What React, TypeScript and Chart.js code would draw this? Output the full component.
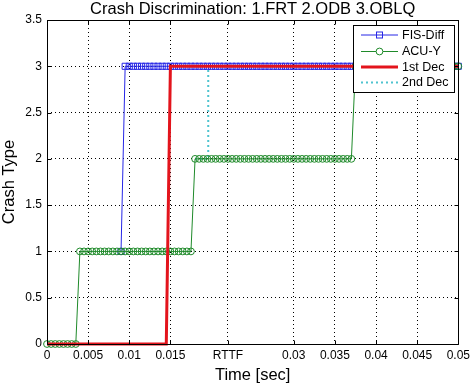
import React, { useEffect, useRef } from 'react';
import { Chart, registerables } from 'chart.js';

Chart.register(...registerables);

const timeSec = [
  0, 0.0005, 0.001, 0.0015, 0.002, 0.0025, 0.003, 0.0035, 0.004, 0.0045,
  0.005, 0.0055, 0.006, 0.0065, 0.007, 0.0075, 0.008, 0.0085, 0.009, 0.0095,
  0.01, 0.0105, 0.011, 0.0115, 0.012, 0.0125, 0.013, 0.0135, 0.014, 0.0145,
  0.015, 0.0155, 0.016, 0.0165, 0.017, 0.0175, 0.018, 0.0185, 0.019, 0.0195,
  0.02, 0.0205, 0.021, 0.0215, 0.022, 0.0225, 0.023, 0.0235, 0.024, 0.0245,
  0.025, 0.0255, 0.026, 0.0265, 0.027, 0.0275, 0.028, 0.0285, 0.029, 0.0295,
  0.03, 0.0305, 0.031, 0.0315, 0.032, 0.0325, 0.033, 0.0335, 0.034, 0.0345,
  0.035, 0.0355, 0.036, 0.0365, 0.037, 0.0375, 0.038, 0.0385, 0.039, 0.0395,
  0.04, 0.0405, 0.041, 0.0415, 0.042, 0.0425, 0.043, 0.0435, 0.044, 0.0445,
  0.045, 0.0455, 0.046, 0.0465, 0.047, 0.0475, 0.048, 0.0485, 0.049, 0.0495,
  0.05,
];

const fisDiff = [
  null, null, null, null, null, null, null, null, null, null,
  null, null, null, null, null, null, null, null, 1, 3,
  3, 3, 3, 3, 3, 3, 3, 3, 3, 3,
  3, 3, 3, 3, 3, 3, 3, 3, 3, 3,
  3, 3, 3, 3, 3, 3, 3, 3, 3, 3,
  3, 3, 3, 3, 3, 3, 3, 3, 3, 3,
  3, 3, 3, 3, 3, 3, 3, 3, 3, 3,
  3, 3, 3, 3, 3, 3, 3, 3, 3, 3,
  3, 3, 3, 3, 3, 3, 3, 3, 3, 3,
  3, 3, 3, 3, 3, 3, 3, 3, 3, 3,
  3,
];

const acuY = [
  0, 0, 0, 0, 0, 0, 0, 0, 1, 1,
  1, 1, 1, 1, 1, 1, 1, 1, 1, 1,
  1, 1, 1, 1, 1, 1, 1, 1, 1, 1,
  1, 1, 1, 1, 1, 1, 2, 2, 2, 2,
  2, 2, 2, 2, 2, 2, 2, 2, 2, 2,
  2, 2, 2, 2, 2, 2, 2, 2, 2, 2,
  2, 2, 2, 2, 2, 2, 2, 2, 2, 2,
  2, 2, 2, 2, 2, 3, 3, 3, 3, 3,
  3, 3, 3, 3, 3, 3, 3, 3, 3, 3,
  3, 3, 3, 3, 3, 3, 3, 3, 3, 3,
  3,
];

const dec1 = [
  0, 0, 0, 0, 0, 0, 0, 0, 0, 0,
  0, 0, 0, 0, 0, 0, 0, 0, 0, 0,
  0, 0, 0, 0, 0, 0, 0, 0, 0, 0,
  3, 3, 3, 3, 3, 3, 3, 3, 3, 3,
  3, 3, 3, 3, 3, 3, 3, 3, 3, 3,
  3, 3, 3, 3, 3, 3, 3, 3, 3, 3,
  3, 3, 3, 3, 3, 3, 3, 3, 3, 3,
  3, 3, 3, 3, 3, 3, 3, 3, 3, 3,
  3, 3, 3, 3, 3, 3, 3, 3, 3, 3,
  3, 3, 3, 3, 3, 3, 3, 3, 3, 3,
  3,
];

const dec2Time = [0.018, 0.0196, 0.0196, 0.05];
const dec2Vals = [2, 2, 3, 3];

const xTickVals = [0, 0.005, 0.01, 0.015, 0.022, 0.03, 0.035, 0.04, 0.045, 0.05];
const xTickLabels = ['0', '0.005', '0.01', '0.015', 'RTTF', '0.03', '0.035', '0.04', '0.045', '0.05'];
const yTickVals = [0, 0.5, 1, 1.5, 2, 2.5, 3, 3.5];
const yTickLabels = ['0', '0.5', '1', '1.5', '2', '2.5', '3', '3.5'];

const chartTitle = 'Crash Discrimination: 1.FRT 2.ODB 3.OBLQ';
const xTitle = 'Time [sec]';
const yTitle = 'Crash Type';
const legendLabels = ['FIS-Diff', 'ACU-Y', '1st Dec', '2nd Dec'];

const FONT = '"Liberation Sans", Arial, Helvetica, sans-serif';
const BLUE = '#2626e6';
const GREEN = '#1f8a2a';
const RED = '#e3141c';
const CYAN = '#4fc3cf';

const pts = (xs: number[], ys: (number | null)[]) => xs.map((x, i) => ({ x, y: ys[i] }));

const decor = {
  id: 'decor',
  afterDatasetsDraw(chart: any) {
    const { ctx, chartArea: a, scales } = chart;
    const xs = scales.x;
    const ys = scales.y;
    const L = Math.round(a.left) + 0.5;
    const R = Math.round(a.right) + 0.5;
    const T = Math.round(a.top) + 0.5;
    const B = Math.round(a.bottom) + 0.5;
    ctx.save();
    ctx.setLineDash([]);
    ctx.strokeStyle = '#000';
    ctx.lineWidth = 1;
    ctx.beginPath();
    ctx.rect(L, T, R - L, B - T);
    const tl = 4;
    xTickVals.forEach((v) => {
      const px = Math.round(xs.getPixelForValue(v)) + 0.5;
      ctx.moveTo(px, B);
      ctx.lineTo(px, B - tl);
      ctx.moveTo(px, T);
      ctx.lineTo(px, T + tl);
    });
    yTickVals.forEach((v) => {
      const py = Math.round(ys.getPixelForValue(v)) + 0.5;
      ctx.moveTo(L, py);
      ctx.lineTo(L + tl, py);
      ctx.moveTo(R, py);
      ctx.lineTo(R - tl, py);
    });
    ctx.stroke();

    // legend box
    const bx = 353.5, by = 25.5, bw = 101, bh = 67;
    ctx.fillStyle = '#fff';
    ctx.fillRect(bx, by, bw, bh);
    ctx.strokeStyle = '#000';
    ctx.lineWidth = 1;
    ctx.strokeRect(bx, by, bw, bh);
    const rows = [35, 51.5, 67, 82.5];
    const x1 = 361, x2 = 398, mx = 379.5;
    ctx.font = `12.5px ${FONT}`;
    ctx.textBaseline = 'middle';
    ctx.textAlign = 'left';
    legendLabels.forEach((lab, i) => {
      const y = rows[i];
      ctx.save();
      if (i === 0) {
        ctx.strokeStyle = BLUE; ctx.lineWidth = 1;
        ctx.beginPath(); ctx.moveTo(x1, y); ctx.lineTo(x2, y); ctx.stroke();
        ctx.strokeRect(mx - 3, y - 3, 6, 6);
      } else if (i === 1) {
        ctx.strokeStyle = GREEN; ctx.lineWidth = 1;
        ctx.beginPath(); ctx.moveTo(x1, y); ctx.lineTo(x2, y); ctx.stroke();
        ctx.beginPath(); ctx.arc(mx, y, 3.4, 0, Math.PI * 2); ctx.fillStyle = '#fff'; ctx.fill(); ctx.stroke();
      } else if (i === 2) {
        ctx.strokeStyle = RED; ctx.lineWidth = 3;
        ctx.beginPath(); ctx.moveTo(x1, y); ctx.lineTo(x2, y); ctx.stroke();
      } else {
        ctx.strokeStyle = CYAN; ctx.lineWidth = 2; ctx.setLineDash([2, 3]);
        ctx.beginPath(); ctx.moveTo(x1, y); ctx.lineTo(x2, y); ctx.stroke();
      }
      ctx.restore();
      ctx.fillStyle = '#000';
      ctx.fillText(lab, 402, y + 0.5);
    });

    // titles
    ctx.fillStyle = '#000';
    ctx.font = `16.5px ${FONT}`;
    ctx.textAlign = 'center';
    ctx.textBaseline = 'alphabetic';
    ctx.fillText(chartTitle, (a.left + a.right) / 2, 13.5);
    ctx.fillText(xTitle, (a.left + a.right) / 2, 380);
    ctx.save();
    ctx.translate(13.5, (a.top + a.bottom) / 2);
    ctx.rotate(-Math.PI / 2);
    ctx.fillText(yTitle, 0, 0);
    ctx.restore();
    ctx.restore();
  },
};

export default function App() {
  const ref = useRef<HTMLCanvasElement | null>(null);
  useEffect(() => {
    if (!ref.current) return;
    const gridCommon = { color: '#000', lineWidth: 1, drawTicks: false, tickLength: 0 };
    const chart = new Chart(ref.current, {
      type: 'line',
      data: {
        datasets: [
          {
            label: legendLabels[2],
            data: pts(timeSec, dec1),
            borderColor: RED,
            borderWidth: 3,
            pointRadius: 0,
            tension: 0,
            clip: false,
          } as any,
          {
            label: legendLabels[1],
            data: pts(timeSec, acuY),
            borderColor: GREEN,
            borderWidth: 1,
            pointStyle: 'circle',
            pointRadius: 3.4,
            pointBorderWidth: 1,
            pointBorderColor: GREEN,
            pointBackgroundColor: 'rgba(0,0,0,0)',
            tension: 0,
            clip: false,
          },
          {
            label: legendLabels[3],
            data: pts(dec2Time, dec2Vals),
            borderColor: CYAN,
            borderWidth: 2,
            borderDash: [2, 3],
            pointRadius: 0,
            tension: 0,
            clip: false,
          },
          {
            label: legendLabels[0],
            data: pts(timeSec, fisDiff),
            borderColor: BLUE,
            borderWidth: 1,
            pointStyle: 'rect',
            pointRadius: 4.3,
            pointBorderWidth: 1,
            pointBorderColor: BLUE,
            pointBackgroundColor: 'rgba(0,0,0,0)',
            tension: 0,
            spanGaps: false,
            clip: false,
          },
        ],
      },
      options: {
        animation: false,
        responsive: true,
        maintainAspectRatio: false,
        events: [],
        layout: { padding: { top: 20, right: 14, left: 0, bottom: 0 } },
        plugins: { legend: { display: false }, tooltip: { enabled: false }, title: { display: false } },
        scales: {
          x: {
            type: 'linear',
            min: 0,
            max: 0.05,
            grid: gridCommon,
            border: { display: false, dash: [1, 3] },
            afterBuildTicks: (s: any) => { s.ticks = xTickVals.map((v) => ({ value: v })); },
            afterFit: (s: any) => { s.height = 41; },
            ticks: {
              autoSkip: false,
              maxRotation: 0,
              padding: 4,
              color: '#000',
              font: { size: 12, family: FONT },
              callback: (_v: any, i: number) => xTickLabels[i],
            },
          },
          y: {
            type: 'linear',
            min: 0,
            max: 3.5,
            grid: gridCommon,
            border: { display: false, dash: [1, 3] },
            afterBuildTicks: (s: any) => { s.ticks = yTickVals.map((v) => ({ value: v })); },
            afterFit: (s: any) => { s.width = 47; },
            ticks: {
              autoSkip: false,
              padding: 5,
              color: '#000',
              font: { size: 12, family: FONT },
              callback: (_v: any, i: number) => yTickLabels[i],
            },
          },
        },
      } as any,
      plugins: [decor],
    });
    return () => chart.destroy();
  }, []);
  return (
    <div style={{ position: 'fixed', left: 0, top: 0, width: 474, height: 385, background: '#fff' }}>
      <canvas ref={ref} />
    </div>
  );
}
